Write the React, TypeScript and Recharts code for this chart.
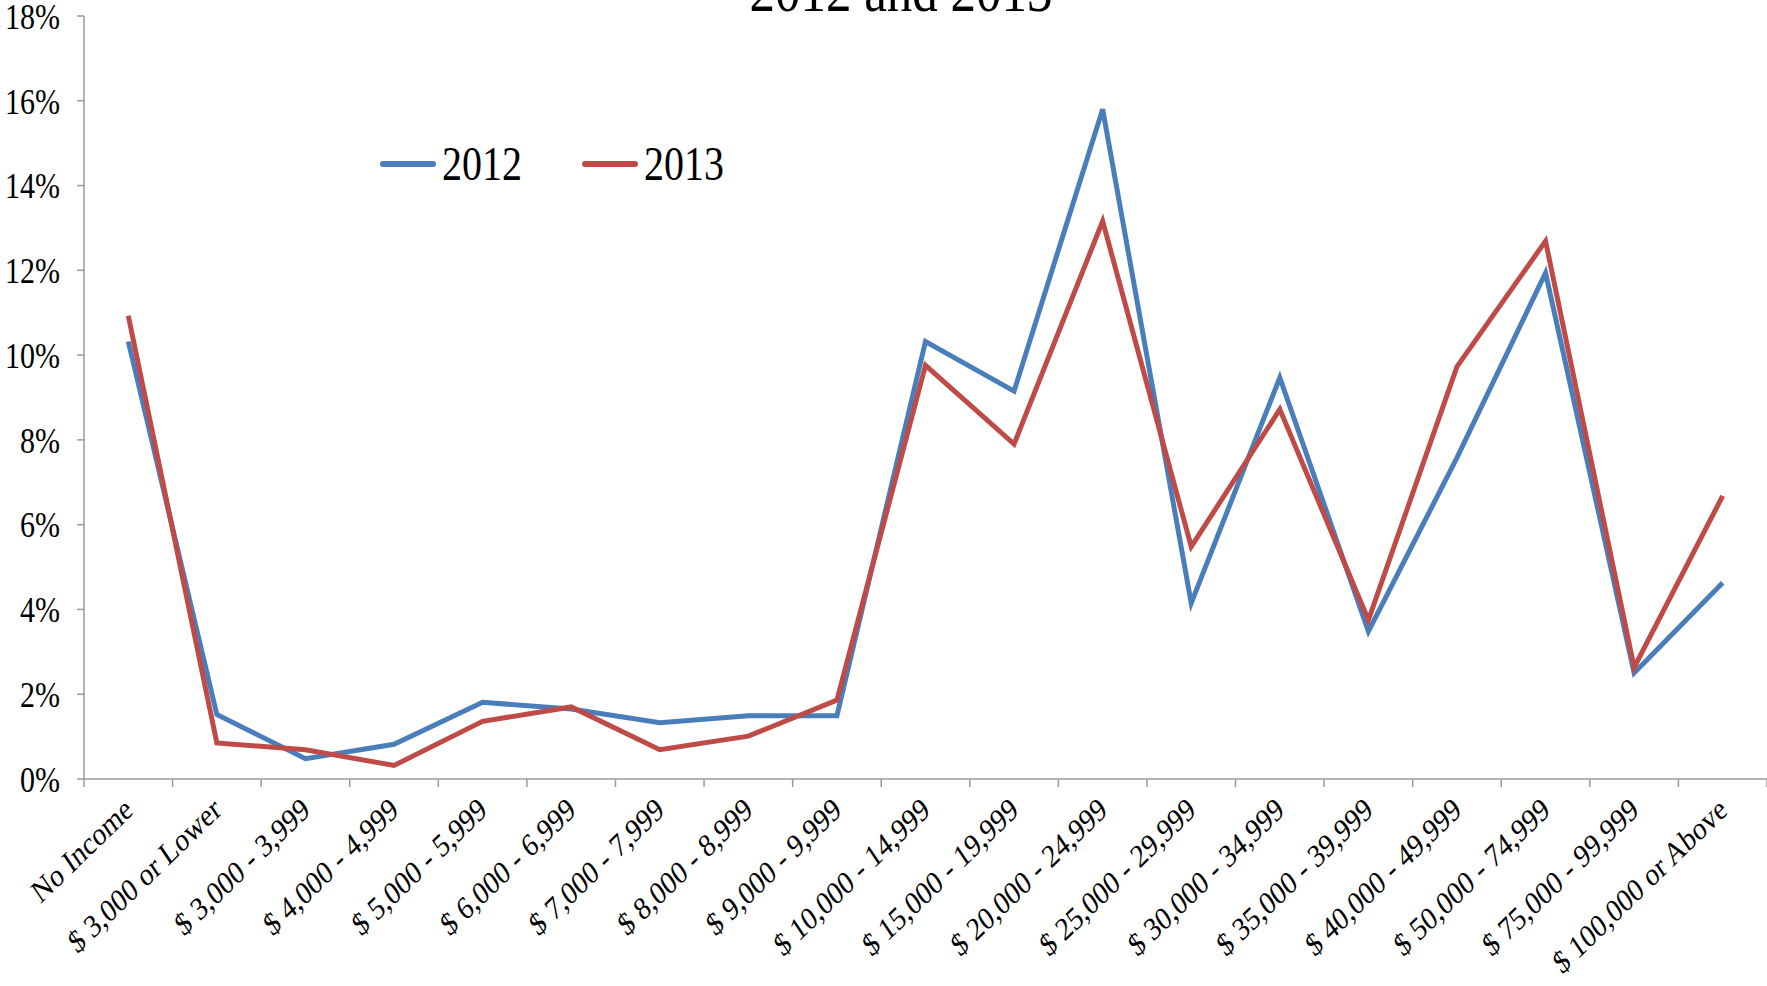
import { LineChart, Line, XAxis, YAxis, Legend, Customized } from "recharts";

const categories = [
  "No Income",
  "$ 3,000 or Lower",
  "$ 3,000 - 3,999",
  "$ 4,000 - 4,999",
  "$ 5,000 - 5,999",
  "$ 6,000 - 6,999",
  "$ 7,000 - 7,999",
  "$ 8,000 - 8,999",
  "$ 9,000 - 9,999",
  "$ 10,000 - 14,999",
  "$ 15,000 - 19,999",
  "$ 20,000 - 24,999",
  "$ 25,000 - 29,999",
  "$ 30,000 - 34,999",
  "$ 35,000 - 39,999",
  "$ 40,000 - 49,999",
  "$ 50,000 - 74,999",
  "$ 75,000 - 99,999",
  "$ 100,000 or Above",
];

const values2012 = [10.32, 1.52, 0.48, 0.82, 1.81, 1.65, 1.33, 1.49, 1.49, 10.32, 9.15, 15.8, 4.15, 9.47, 3.48, 7.58, 11.94, 2.5, 4.63];
const values2013 = [10.93, 0.85, 0.69, 0.32, 1.36, 1.7, 0.69, 1.01, 1.86, 9.76, 7.9, 13.16, 5.48, 8.72, 3.75, 9.73, 12.69, 2.63, 6.68];

const yTicks = [0, 2, 4, 6, 8, 10, 12, 14, 16, 18];
const boundaryTicks = [...categories.map((_, i) => i), categories.length];
const labelTicks = categories.map((_, i) => i + 0.5);

const data = categories.map((name, i) => ({
  x: i + 0.5,
  name,
  y2012: values2012[i],
  y2013: values2013[i],
}));

const FONT = "'Liberation Serif', 'Times New Roman', serif";
const BLUE = "#4A7EBB";
const RED = "#BE4B48";
const AXIS = "#9A9A9A";
// the original picture is slightly stretched vertically
const STRETCH = 1.2;

const LabelTick = (props: any) => {
  const { x, y, payload } = props;
  const label = categories[Math.floor(payload.value)];
  return (
    <g transform={`translate(${x + 6},${y + 14}) scale(1,${STRETCH}) rotate(-39)`}>
      <text textAnchor="end" fontSize={27} fontFamily={FONT} fill="#000">
        {label}
      </text>
    </g>
  );
};

const YTick = (props: any) => {
  const { x, y, payload } = props;
  return (
    <g transform={`translate(${x},${y}) scale(1,${STRETCH})`}>
      <text textAnchor="end" dy="0.355em" fontSize={30} fontFamily={FONT} fill="#000">
        {`${payload.value}%`}
      </text>
    </g>
  );
};

const stretched = { display: "inline-block", transform: `scaleY(${STRETCH})` };

const renderLegend = () => (
  <div style={{ display: "flex", alignItems: "center", fontFamily: FONT, fontSize: 40, lineHeight: "44px", color: "#000" }}>
    <div style={{ width: 56, height: 6, background: BLUE, borderRadius: 3, marginRight: 6 }} />
    <span style={stretched}>2012</span>
    <div style={{ width: 56, height: 6, background: RED, borderRadius: 3, marginLeft: 60, marginRight: 6 }} />
    <span style={stretched}>2013</span>
  </div>
);

const Title = () => (
  <g transform={`translate(901,11) scale(1,${STRETCH})`}>
    <text textAnchor="middle" fontSize={51} fontFamily={FONT} fill="#000">
      2012 and 2013
    </text>
  </g>
);

export default function App() {
  return (
    <div style={{ width: 1767, height: 986, overflow: "hidden", background: "#fff" }}>
      <style>{`body{margin:0}`}</style>
      <LineChart width={1767} height={986} data={data} margin={{ top: 16, right: 0, bottom: 0, left: 0 }}>
        <XAxis
          xAxisId="b"
          type="number"
          dataKey="x"
          domain={[0, 19]}
          ticks={boundaryTicks}
          interval={0}
          height={12}
          tickSize={8}
          stroke={AXIS}
          strokeWidth={1.5}
          tick={() => <g />}
        />
        <XAxis
          xAxisId="lbl"
          type="number"
          dataKey="x"
          domain={[0, 19]}
          ticks={labelTicks}
          interval={0}
          height={195}
          axisLine={false}
          tickLine={false}
          tick={<LabelTick />}
        />
        <YAxis
          type="number"
          domain={[0, 18]}
          ticks={yTicks}
          interval={0}
          width={84}
          tickSize={7}
          tickMargin={17}
          stroke={AXIS}
          strokeWidth={1.5}
          tick={<YTick />}
        />
        <Line xAxisId="b" dataKey="y2012" stroke={BLUE} strokeWidth={5} dot={false} isAnimationActive={false} />
        <Line xAxisId="b" dataKey="y2013" stroke={RED} strokeWidth={5} dot={false} isAnimationActive={false} />
        <Legend
          layout="horizontal"
          verticalAlign="middle"
          align="center"
          content={renderLegend}
          wrapperStyle={{ top: 142, left: 380, width: 420, height: 44 }}
        />
        <Customized component={Title} />
      </LineChart>
    </div>
  );
}
